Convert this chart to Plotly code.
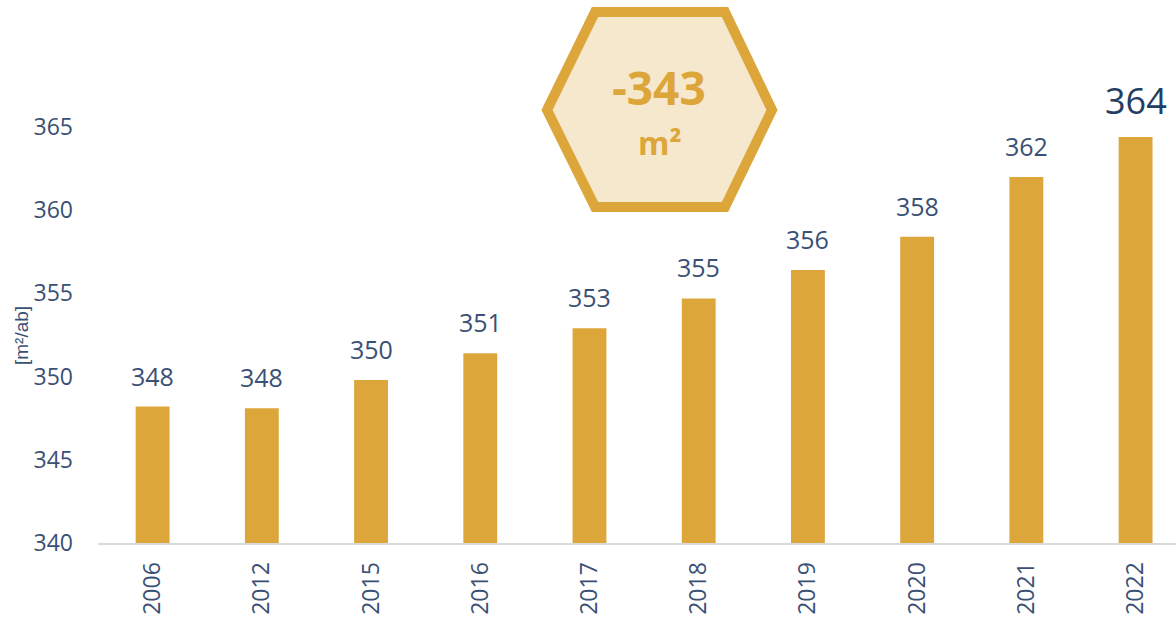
import plotly.graph_objects as go

years = ["2006", "2012", "2015", "2016", "2017", "2018", "2019", "2020", "2021", "2022"]
values = [348.2, 348.1, 349.8, 351.4, 352.9, 354.7, 356.4, 358.4, 362.0, 364.4]
labels = ["348", "348", "350", "351", "353", "355", "356", "358", "362", "364"]
badge_value = "-343"
badge_unit = "m²"
y_title = "[m²/ab]"

BAR = "#DDA63A"
TXT = "#3a5074"
W, H = 1176, 624
L, R, T, B = 98, 0, 0, 81
pw, ph = W - L - R, H - T - B

def px(x):
    return (x - L) / pw

def py(y):
    return 1 - (y - T) / ph

fig = go.Figure()
fig.add_trace(go.Bar(
    x=years, y=values, width=0.31,
    marker=dict(color=BAR, line=dict(width=0)),
    hoverinfo="skip",
))

for i, (v, lab) in enumerate(zip(values, labels)):
    last = i == len(values) - 1
    fig.add_annotation(x=i, y=v, xref="x", yref="y", text=lab, showarrow=False,
                       xanchor="center", yanchor="bottom",
                       yshift=10 if last else 12,
                       font=dict(size=36 if last else 25, color="#233d63" if last else TXT, family="Open Sans"))

hexpts = [(547, 110), (595, 12), (725, 12), (772, 110), (725, 207), (595, 207)]
path = "M " + " L ".join(f"{px(x):.5f},{py(y):.5f}" for x, y in hexpts) + " Z"
fig.add_shape(type="path", path=path, xref="paper", yref="paper",
              fillcolor="#F6E8CD", line=dict(color=BAR, width=10), layer="above")

fig.add_annotation(x=px(659), y=py(87), xref="paper", yref="paper", text=f"<b>{badge_value}</b>",
                   xanchor="center", yanchor="middle",
                   showarrow=False, font=dict(size=46, color=BAR, family="Open Sans"))
fig.add_annotation(x=px(660), y=py(142), xref="paper", yref="paper", text=f"<b>{badge_unit}</b>",
                   xanchor="center", yanchor="middle",
                   showarrow=False, font=dict(size=32, color=BAR, family="Open Sans"))
fig.add_annotation(x=px(21), y=py(336), xref="paper", yref="paper", text=y_title, textangle=-90,
                   xanchor="center", yanchor="middle",
                   showarrow=False, font=dict(size=19, color=TXT, family="Liberation Sans Narrow, Liberation Sans"))

fig.update_layout(
    width=W, height=H, margin=dict(l=L, r=R, t=T, b=B),
    paper_bgcolor="white", plot_bgcolor="white", showlegend=False,
    font=dict(family="Open Sans", color=TXT),
    bargap=0.69,
)
fig.update_xaxes(type="category", range=[-0.5, 9.37], tickangle=-90,
                 tickfont=dict(size=23, color=TXT), showgrid=False,
                 showline=True, linecolor="#d9d9d9", linewidth=2, ticks="",
                 ticklabelstandoff=8)
fig.update_yaxes(range=[340, 372.63], tickvals=[340, 345, 350, 355, 360, 365],
                 tickfont=dict(size=23, color=TXT), showgrid=False, zeroline=False,
                 showline=False, ticks="", ticklabelstandoff=24)

fig.write_html("out.html", config={"displayModeBar": False},
               post_script="document.body.style.margin='0';document.body.style.overflow='hidden';")
